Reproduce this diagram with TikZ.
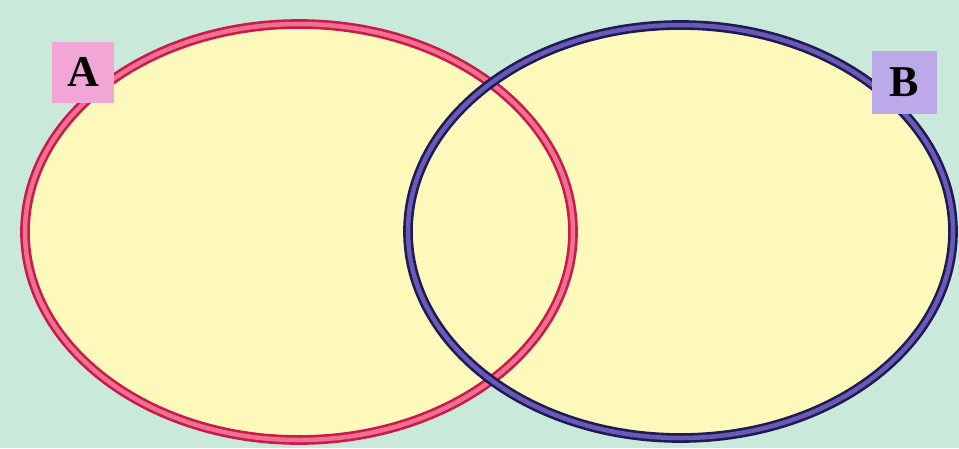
\documentclass[tikz,border=0pt]{standalone}
\usepackage{fontspec}
\setmainfont{Liberation Serif}
\definecolor{bgmint}{HTML}{C9E9DB}
\definecolor{fillyel}{HTML}{FCF9BB}
\definecolor{reddark}{HTML}{C81A4C}
\definecolor{redlight}{HTML}{F0708F}
\definecolor{bluedark}{HTML}{1E1A55}
\definecolor{bluelight}{HTML}{6A5AB4}
\definecolor{boxpink}{HTML}{F2A6D6}
\definecolor{boxlav}{HTML}{BBA9EA}
\begin{document}
\begin{tikzpicture}[x=1pt,y=-1pt,
  setline/.style={line width=2.6pt, double distance=4.5pt},
  labelbox/.style={inner sep=0pt, minimum width=62pt, minimum height=61pt,
    font=\fontsize{44}{44}\selectfont\bfseries, text=black}]
\useasboundingbox (0,0) rectangle (959,448);
\fill[bgmint] (0,0) rectangle (959,448);
\fill[fillyel] (299,232) ellipse [x radius=274, y radius=208];
\fill[fillyel] (680.5,231.5) ellipse [x radius=272.5, y radius=206.5];
\draw[setline, draw=reddark, double=redlight] (299,232) ellipse [x radius=274, y radius=208];
\draw[setline, draw=bluedark, double=bluelight] (680.5,231.5) ellipse [x radius=272.5, y radius=206.5];
\node[labelbox, fill=boxpink] (A) at (83,72) {A};
\node[labelbox, fill=boxlav, minimum width=65pt, minimum height=63pt] (B) at (904,82) {B};
\end{tikzpicture}
\end{document}
